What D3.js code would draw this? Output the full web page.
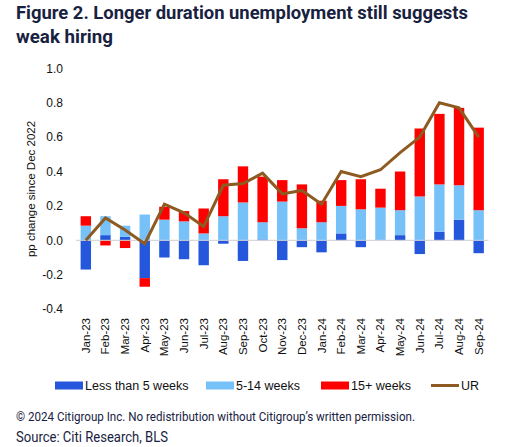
<!DOCTYPE html>
<html>
<head>
<meta charset="utf-8">
<script src="https://cdn.jsdelivr.net/npm/d3@7"></script>
<style>
  body{margin:0;background:#fff;}
  svg{display:block;}
  .axis-y text{font-family:"Liberation Sans",Arial,sans-serif;font-size:12px;fill:#111;}
  .axis-x text{font-family:"Liberation Sans",Arial,sans-serif;font-size:11.5px;fill:#111;}
  .legend text{font-family:"Liberation Sans",Arial,sans-serif;font-size:12.5px;fill:#111;}
</style>
</head>
<body>
<script>

//data
var months = ['Jan-23','Feb-23','Mar-23','Apr-23','May-23','Jun-23','Jul-23','Aug-23','Sep-23','Oct-23','Nov-23','Dec-23',
              'Jan-24','Feb-24','Mar-24','Apr-24','May-24','Jun-24','Jul-24','Aug-24','Sep-24'];
var lessThan5 = [-0.17,0.03,0.02,-0.22,-0.10,-0.11,-0.145,-0.02,-0.12,0.005,-0.115,-0.04,
                 -0.07,0.04,-0.04,0.0,0.03,-0.08,0.05,0.12,-0.075];
var weeks5to14 = [0.085,0.11,0.065,0.15,0.12,0.11,0.04,0.14,0.22,0.10,0.225,0.07,
                  0.105,0.16,0.18,0.19,0.145,0.255,0.275,0.20,0.175];
var weeks15plus = [0.055,-0.03,-0.045,-0.05,0.075,0.06,0.145,0.215,0.21,0.265,0.125,0.255,
                   0.125,0.15,0.175,0.11,0.225,0.395,0.41,0.45,0.48];
var ur = [0.0,0.13,0.06,-0.02,0.21,0.16,0.08,0.32,0.33,0.39,0.27,0.29,
          0.21,0.40,0.37,0.41,0.51,0.60,0.80,0.77,0.60];
var yTicks = [-0.4,-0.2,0.0,0.2,0.4,0.6,0.8,1.0];

var seriesKeys = ['lt5','w5_14','w15'];
var seriesNames = ['Less than 5 weeks','5-14 weeks','15+ weeks'];
var colors = {lt5:'#2457dc', w5_14:'#77c1f9', w15:'#ff0000', ur:'#8d5b22'};

var W = 517, H = 447;
var navy = '#18223f';

var svg = d3.select('body').append('svg')
    .attr('width',W)
    .attr('height',H);

//title
var title = svg.append('g').attr('class','title')
    .style('font-family','Roboto, "Noto Sans", sans-serif')
    .style('font-weight','bold')
    .style('font-size','17.5px')
    .style('fill',navy);
title.append('text').attr('x',16).attr('y',19)
    .attr('textLength',452).attr('lengthAdjust','spacingAndGlyphs')
    .text('Figure 2. Longer duration unemployment still suggests');
title.append('text').attr('x',16).attr('y',43)
    .attr('textLength',97).attr('lengthAdjust','spacingAndGlyphs')
    .text('weak hiring');

//scales
var table = months.map(function(m,i){
    return {month:m, lt5:lessThan5[i], w5_14:weeks5to14[i], w15:weeks15plus[i], ur:ur[i]};
});

var scaleX = d3.scaleBand()
    .domain(months)
    .range([76,488.5])
    .paddingInner(0.47)
    .paddingOuter(0.235);

var scaleY = d3.scaleLinear()
    .domain([-0.4,1.0])
    .range([309.1,68.3]);

var stacked = d3.stack()
    .keys(seriesKeys)
    .offset(d3.stackOffsetDiverging)(table);

var plot = svg.append('g').attr('class','plot');

//bars
plot.selectAll('.series')
    .data(stacked)
    .enter()
    .append('g')
    .attr('class','series')
    .attr('fill',function(d){return colors[d.key]})
    .selectAll('rect')
    .data(function(d){return d})
    .enter()
    .append('rect')
    .attr('x',function(d){return scaleX(d.data.month)})
    .attr('width',scaleX.bandwidth())
    .attr('y',function(d){return scaleY(Math.max(d[0],d[1]))})
    .attr('height',function(d){return Math.abs(scaleY(d[0])-scaleY(d[1]))});

//zero line
plot.append('line')
    .attr('x1',scaleX.range()[0])
    .attr('x2',scaleX.range()[1])
    .attr('y1',scaleY(0))
    .attr('y2',scaleY(0))
    .attr('stroke','#cfcfd4')
    .attr('stroke-width',1);

//UR line
var line = d3.line()
    .x(function(d){return scaleX(d.month)+scaleX.bandwidth()/2})
    .y(function(d){return scaleY(d.ur)});

plot.append('path')
    .datum(table)
    .attr('d',line)
    .attr('fill','none')
    .attr('stroke',colors.ur)
    .attr('stroke-width',3)
    .attr('stroke-linejoin','miter');

//axis y
var axisY = d3.axisLeft()
    .scale(scaleY)
    .tickValues(yTicks)
    .tickSize(0)
    .tickPadding(0)
    .tickFormat(function(d){return d3.format('.1f')(d).replace('\u2212','-')});

svg.append('g').attr('class','axis axis-y')
    .attr('transform','translate(63,0)')
    .call(axisY)
    .call(function(g){g.select('.domain').remove()});

svg.append('text')
    .attr('transform','translate(35,189) rotate(-90)')
    .attr('text-anchor','middle')
    .style('font-family','"Liberation Sans",Arial,sans-serif')
    .style('font-size','11.5px')
    .style('fill','#111')
    .text('pp change since Dec 2022');

//axis x
var axisX = d3.axisBottom()
    .scale(scaleX)
    .tickSize(0)
    .tickPadding(0);

var gx = svg.append('g').attr('class','axis axis-x')
    .attr('transform','translate(0,318)')
    .call(axisX);
gx.select('.domain').remove();
gx.selectAll('text')
    .attr('transform','rotate(-90)')
    .attr('x',0)
    .attr('y',0)
    .attr('dx','-0.0em')
    .attr('dy','0.35em')
    .style('text-anchor','end');

//legend
var legendItems = [
    {name:seriesNames[0], key:'lt5', x:55},
    {name:seriesNames[1], key:'w5_14', x:206},
    {name:seriesNames[2], key:'w15', x:321},
    {name:'UR', key:'ur', x:431}
];

var legend = svg.append('g').attr('class','legend')
    .attr('transform','translate(0,385.5)');

var li = legend.selectAll('.item')
    .data(legendItems)
    .enter()
    .append('g')
    .attr('class','item')
    .attr('transform',function(d){return 'translate(' + d.x + ',0)'});

li.filter(function(d){return d.key!=='ur'})
    .append('rect')
    .attr('x',0).attr('y',-4)
    .attr('width',28).attr('height',8)
    .attr('fill',function(d){return colors[d.key]});

li.filter(function(d){return d.key==='ur'})
    .append('line')
    .attr('x1',0).attr('x2',28)
    .attr('stroke',colors.ur)
    .attr('stroke-width',3);

li.append('text')
    .attr('x',30)
    .attr('dy','0.36em')
    .text(function(d){return d.name});

//footer
svg.append('text')
    .attr('x',16).attr('y',421)
    .attr('textLength',399).attr('lengthAdjust','spacingAndGlyphs')
    .style('font-family','Roboto, "Noto Sans", sans-serif')
    .style('font-size','13px')
    .style('fill',navy)
    .text('\u00a9 2024 Citigroup Inc. No redistribution without Citigroup\u2019s written permission.');

svg.append('text')
    .attr('x',16).attr('y',442)
    .attr('textLength',152).attr('lengthAdjust','spacingAndGlyphs')
    .style('font-family','Roboto, "Noto Sans", sans-serif')
    .style('font-size','14px')
    .style('fill',navy)
    .text('Source: Citi Research, BLS');

</script>
</body>
</html>
